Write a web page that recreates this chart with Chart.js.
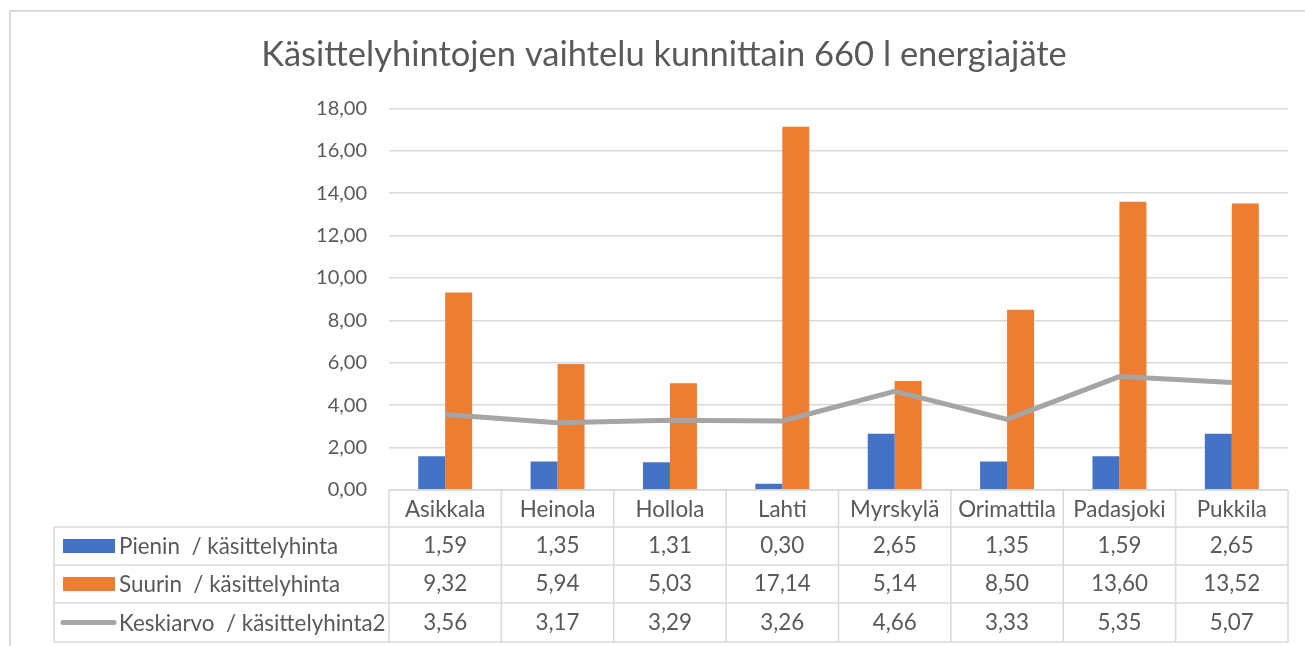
<!DOCTYPE html>
<html>
<head>
<meta charset="utf-8">
<script src="https://cdn.jsdelivr.net/npm/chart.js@4"></script>
<style>
  body { margin: 0; background: #fff; }
  #wrap { position: relative; width: 1305px; height: 646px; }
  #frame { position: absolute; left: 9px; top: 10px; width: 1310px; height: 660px; border: 2px solid #d9d9d9; box-sizing: border-box; pointer-events: none; }
</style>
</head>
<body>
<div id="wrap">
  <canvas id="myChart" width="1305" height="646"></canvas>
  <div id="frame"></div>
</div>
<script>
var kunnat = ['Asikkala', 'Heinola', 'Hollola', 'Lahti', 'Myrskylä', 'Orimattila', 'Padasjoki', 'Pukkila'];
var pienin = [1.59, 1.35, 1.31, 0.30, 2.65, 1.35, 1.59, 2.65];
var suurin = [9.32, 5.94, 5.03, 17.14, 5.14, 8.50, 13.60, 13.52];
var keskiarvo = [3.56, 3.17, 3.29, 3.26, 4.66, 3.33, 5.35, 5.07];
var yTicks = [0, 2, 4, 6, 8, 10, 12, 14, 16, 18];

var fontFamily = 'Lato, "Open Sans", sans-serif';
var textColor = '#595959';
var gridColor = '#d9d9d9';

function fi(v) {
    return v.toFixed(2).replace('.', ',');
}

// Taulukko kaavion alle (data table)
var dataTablePlugin = {
    id: 'dataTable',
    afterDraw: function (chart) {
        var ctx = chart.ctx;
        var x = chart.scales.x;
        var area = chart.chartArea;
        var left = area.left, right = area.right;
        var colW = (right - left) / kunnat.length;
        var rowTops = [area.bottom, 527, 565, 603, 642];
        var legendLeft = 54;

        ctx.save();
        ctx.strokeStyle = gridColor;
        ctx.lineWidth = 1.5;

        // vaakaviivat
        ctx.beginPath();
        ctx.moveTo(left, rowTops[0]); ctx.lineTo(right, rowTops[0]);
        for (var r = 1; r < rowTops.length; r++) {
            ctx.moveTo(legendLeft, rowTops[r]); ctx.lineTo(right, rowTops[r]);
        }
        // pystyviivat
        for (var c = 0; c <= kunnat.length; c++) {
            var cx = left + c * colW;
            ctx.moveTo(cx, rowTops[0]); ctx.lineTo(cx, rowTops[4]);
        }
        ctx.moveTo(legendLeft, rowTops[1]); ctx.lineTo(legendLeft, rowTops[4]);
        ctx.stroke();

        ctx.fillStyle = textColor;
        ctx.font = '22.4px ' + fontFamily;
        ctx.textAlign = 'center';
        ctx.textBaseline = 'middle';

        var rows = [pienin, suurin, keskiarvo];
        kunnat.forEach(function (k, i) {
            var cx = x.getPixelForValue(i);
            ctx.fillText(k, cx, (rowTops[0] + rowTops[1]) / 2 + 1);
            rows.forEach(function (arr, j) {
                ctx.fillText(fi(arr[i]), cx, (rowTops[j + 1] + rowTops[j + 2]) / 2);
            });
        });

        // selitteet
        ctx.textAlign = 'left';
        chart.data.datasets.forEach(function (ds, j) {
            var cy = (rowTops[j + 1] + rowTops[j + 2]) / 2;
            if (ds.type === 'line') {
                ctx.strokeStyle = ds.borderColor;
                ctx.lineWidth = 5;
                ctx.lineCap = 'round';
                ctx.beginPath();
                ctx.moveTo(63, cy); ctx.lineTo(114, cy);
                ctx.stroke();
            } else {
                ctx.fillStyle = ds.backgroundColor;
                ctx.fillRect(63, cy - 7, 52, 14);
            }
            ctx.fillStyle = textColor;
            ctx.fillText(ds.label, 119, cy + 1);
        });
        ctx.restore();
    }
};

var ctx = document.getElementById('myChart').getContext('2d');
var myChart = new Chart(ctx, {
    data: {
        labels: kunnat,
        datasets: [
            { type: 'bar', label: 'Pienin  / käsittelyhinta', data: pienin, backgroundColor: '#4472C4', categoryPercentage: 0.48, barPercentage: 1, order: 2 },
            { type: 'bar', label: 'Suurin  / käsittelyhinta', data: suurin, backgroundColor: '#ED7D31', categoryPercentage: 0.48, barPercentage: 1, order: 2 },
            { type: 'line', label: 'Keskiarvo  / käsittelyhinta2', data: keskiarvo, borderColor: '#A5A5A5', borderWidth: 5, pointRadius: 0, tension: 0, order: 1 }
        ]
    },
    options: {
        responsive: false,
        animation: false,
        layout: { padding: { left: 23, right: 0, top: 0, bottom: 148 } },
        plugins: {
            legend: { display: false },
            tooltip: { enabled: false },
            title: {
                display: true,
                text: 'Käsittelyhintojen vaihtelu kunnittain 660 l energiajäte',
                color: textColor,
                font: { family: fontFamily, size: 34.5, weight: 'normal' },
                padding: { top: 34, bottom: 33 }
            }
        },
        scales: {
            x: {
                ticks: { display: false },
                grid: { display: false },
                border: { display: false }
            },
            y: {
                min: 0,
                max: 18,
                afterBuildTicks: function (scale) {
                    scale.ticks = yTicks.map(function (v) { return { value: v }; });
                },
                afterFit: function (scale) { scale.width = 366; },
                ticks: {
                    color: textColor,
                    font: { family: fontFamily, size: 20 },
                    padding: 22,
                    callback: function (v) { return fi(v); }
                },
                grid: { color: gridColor, lineWidth: 1.5, drawTicks: false },
                border: { display: false }
            },
            // tyhjä oikea akseli, jotta piirtoalue päättyy oikeaan kohtaan
            yRight: {
                position: 'right',
                ticks: { display: false },
                grid: { display: false },
                border: { display: false },
                afterFit: function (scale) { scale.width = 17; }
            }
        }
    },
    plugins: [dataTablePlugin]
});
</script>
</body>
</html>
